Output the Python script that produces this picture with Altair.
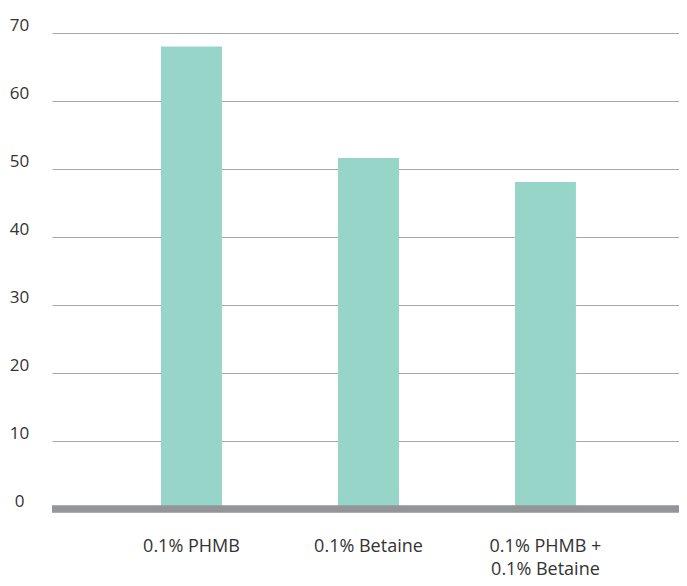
import altair as alt
import pandas as pd

categories = ["0.1% PHMB", "0.1% Betaine", "0.1% PHMB +|0.1% Betaine"]
values = [68.0, 51.6, 48.1]
y_ticks = [0, 10, 20, 30, 40, 50, 60, 70]

df = pd.DataFrame({"cat": categories, "val": values})

FONT = "Open Sans"

bars = alt.Chart(df).mark_bar(color="#97d5c9").encode(
    x=alt.X(
        "cat:N",
        sort=categories,
        title=None,
        scale=alt.Scale(paddingInner=0.6554, paddingOuter=0.599, align=0.514),
        axis=alt.Axis(
            labelExpr="split(datum.label, '|')",
            labelAngle=0,
            labelFont=FONT,
            labelFontSize=18,
            labelColor="#333333",
            labelBaseline="alphabetic",
            labelPadding=42,
            labelLineHeight=23,
            ticks=False,
            domain=False,
            grid=False,
        ),
    ),
    y=alt.Y(
        "val:Q",
        title=None,
        scale=alt.Scale(domain=[0, 70], nice=False),
        axis=alt.Axis(
            values=y_ticks,
            labelFont=FONT,
            labelFontSize=17,
            labelColor="#333333",
            labelAlign="center",
            labelBaseline="alphabetic",
            labelOffset=-3,
            labelPadding=33,
            ticks=False,
            domain=False,
            grid=True,
            gridColor="#a7a7a7",
            gridWidth=1.2,
        ),
    ),
)

baseline = alt.Chart(pd.DataFrame({"z": [0]})).mark_rule(
    color="#939598", strokeWidth=7.5
).encode(y="z:Q")

chart = (
    alt.layer(bars, baseline)
    .properties(
        width=627,
        height=476,
        autosize=alt.AutoSizeParams(type="none"),
        padding={"left": 44, "top": 25, "right": 0, "bottom": 69},
    )
    .configure_view(stroke=None)
)

chart.save("out.html", embed_options={"renderer": "svg", "actions": False})
